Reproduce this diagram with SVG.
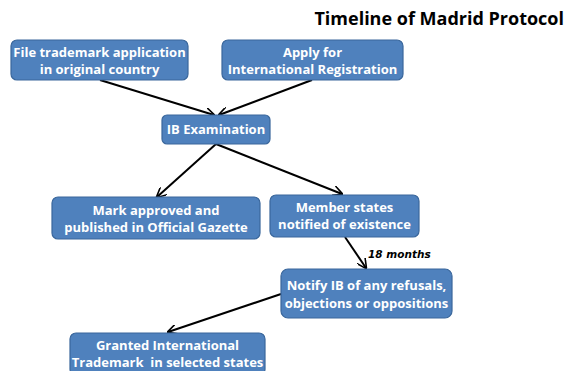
<svg xmlns="http://www.w3.org/2000/svg" width="566" height="371" viewBox="0 0 566 371">
<defs>
<style>
.box{fill:#4F81BD;stroke:#3A679C;stroke-width:1.2}
.t{fill:#fff;font-family:"Open Sans","Liberation Sans",sans-serif;font-weight:bold;font-size:13px;text-anchor:middle;white-space:pre}
.ln{stroke:#000;stroke-width:2;fill:none;marker-end:url(#ah)}
</style>
<marker id="ah" viewBox="0 0 10 10" refX="9" refY="5" markerWidth="5" markerHeight="5" orient="auto" markerUnits="strokeWidth">
<path d="M0,0 L10,5 L0,10" fill="none" stroke="#000" stroke-width="1.6"/>
</marker>
</defs>
<rect width="566" height="371" fill="#fff"/>
<text x="564" y="25" text-anchor="end" font-family="'Open Sans','Liberation Sans',sans-serif" font-weight="bold" font-size="18" fill="#000">Timeline of Madrid Protocol</text>
<g id="connectors">
<line class="ln" x1="100" y1="80" x2="214" y2="115"/>
<line class="ln" x1="312" y1="80" x2="219" y2="115"/>
<line class="ln" x1="216" y1="144" x2="157" y2="197"/>
<line class="ln" x1="216" y1="144" x2="342" y2="194"/>
<line class="ln" x1="345" y1="237" x2="366" y2="268"/>
<line class="ln" x1="281" y1="294" x2="168" y2="332"/>
</g>
<text x="368" y="258" font-family="'Comic Sans MS','DejaVu Sans',sans-serif" font-style="italic" font-weight="bold" font-size="10.5" fill="#000">18 months</text>
<g id="n1"><rect class="box" x="11" y="40" width="177" height="40" rx="6"/><text class="t" x="99.5" y="57">File trademark application</text><text class="t" x="99.5" y="74">in original country</text></g>
<g id="n2"><rect class="box" x="222" y="40" width="181" height="40" rx="6"/><text class="t" x="312.5" y="57">Apply for</text><text class="t" x="312.5" y="74">International Registration</text></g>
<g id="n3"><rect class="box" x="162" y="115" width="108" height="29" rx="5"/><text class="t" x="216" y="134">IB Examination</text></g>
<g id="n4"><rect class="box" x="52" y="197" width="208" height="42" rx="6"/><text class="t" x="156" y="215">Mark approved and</text><text class="t" x="156" y="232">published in Official Gazette</text></g>
<g id="n5"><rect class="box" x="270" y="195" width="149" height="42" rx="6"/><text class="t" x="344.5" y="212">Member states</text><text class="t" x="344.5" y="229">notified of existence</text></g>
<g id="n6"><rect class="box" x="281" y="269" width="171" height="49" rx="7"/><text class="t" x="366.5" y="290">Notify IB of any refusals,</text><text class="t" x="366.5" y="308">objections or oppositions</text></g>
<g id="n7"><rect class="box" x="70" y="333" width="195" height="42" rx="6"/><text class="t" x="167.5" y="350">Granted International</text><text class="t" x="167.5" y="367">Trademark  in selected states</text></g>
</svg>
